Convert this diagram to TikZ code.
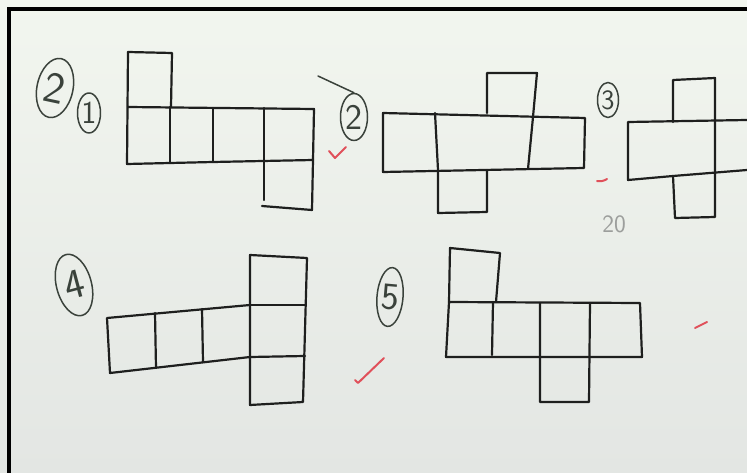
\documentclass[tikz,border=0pt]{standalone}
\usetikzlibrary{shapes.geometric}
\definecolor{netInk}{HTML}{1E1F1E}
\definecolor{netTag}{HTML}{3A423B}
\definecolor{netRed}{HTML}{E0505A}
\definecolor{netPencil}{HTML}{9C9E9C}
\definecolor{netPaperTop}{HTML}{F2F6EF}
\definecolor{netPaperLow}{HTML}{E3E6E3}
\begin{document}
\begin{tikzpicture}[x=1pt,y=-1pt,line cap=round,line join=round]
\useasboundingbox (0,0) rectangle (747,473);
\shade[top color=netPaperTop,bottom color=netPaperLow] (0,0) rectangle (747,473);
\fill[black] (7,7) rectangle (747,11); \fill[black] (7,7) rectangle (11,473);
\tikzset{pen/.style={draw=netInk,line width=2.2pt},redpen/.style={draw=netRed,line width=2pt},tag/.style={ellipse,draw=netTag,line width=1.5pt,inner sep=0pt,text=netTag,font=\sffamily\fontsize{44}{44}\selectfont}}
% net 1
\draw[pen] (128,52) -- (172,53) -- (171,107);
\draw[pen] (128,52) -- (127,164) -- (213,162) -- (313,160) -- (314,109) -- (128,107);
\draw[pen] (170,107) -- (170,163); \draw[pen] (213,108) -- (213,162); \draw[pen] (264,108) -- (264,200);
\draw[pen] (313,160) -- (312,210) -- (262,206);
% net 2
\draw[pen] (383,113) -- (585,118) -- (584,168) -- (383,172) -- cycle;
\draw[pen] (487,113) -- (487,73) -- (537,73) -- (533,117) -- (528,169);
\draw[pen] (435,113) -- (438,170) -- (438,213) -- (487,212) -- (487,170);
% net 3
\draw[pen] (747,120) -- (628,122) -- (628,180) -- (673,176) -- (747,170);
\draw[pen] (673,122) -- (673,80) -- (715,78) -- (715,217) -- (675,218) -- (673,176);
% net 4
\draw[pen] (250,305) -- (107,318) -- (110,373) -- (250,357);
\draw[pen] (155,313) -- (156,368); \draw[pen] (202,309) -- (203,362);
\draw[pen] (250,255) -- (307,258) -- (303,402) -- (250,405) -- cycle;
\draw[pen] (250,305) -- (305,305); \draw[pen] (250,357) -- (305,356);
% net 5
\draw[pen] (449,302) -- (450,248) -- (500,253) -- (496,302);
\draw[pen] (449,302) -- (640,303) -- (642,357) -- (446,357) -- cycle;
\draw[pen] (493,302) -- (492,355);
\draw[pen] (540,303) -- (540,402) -- (589,402) -- (590,303);
% labels
\node[tag,minimum width=36pt,minimum height=60pt,rotate=-12] (qtwo) at (55,88) {2};
\node[tag,minimum width=23pt,minimum height=40pt,font=\sffamily\fontsize{32}{32}\selectfont] (nOne) at (89,113) {1};
\node[tag,minimum width=27pt,minimum height=47pt,font=\sffamily\fontsize{36}{36}\selectfont] (nTwo) at (354,117) {2};
\draw[draw=netTag,line width=1.5pt] (nTwo.north) -- (318,76);
\node[tag,minimum width=21pt,minimum height=35pt,font=\sffamily\fontsize{28}{28}\selectfont] (nThree) at (608,100) {3};
\node[tag,minimum width=35pt,minimum height=63pt,rotate=15,font=\sffamily\fontsize{42}{42}\selectfont] (nFour) at (74,285) {4};
\node[tag,minimum width=26pt,minimum height=59pt,rotate=-5,font=\sffamily\fontsize{38}{38}\selectfont] (nFive) at (390,297) {5};
\node[text=netPencil,inner sep=1pt,font=\sffamily\fontsize{25}{25}\selectfont] (score) at (614,224) {20};
% marks
\draw[redpen] (329,151) -- (335,158) -- (346,147);
\draw[redpen] (355,380) -- (358,383) -- (384,358);
\draw[redpen] (597,181) to[bend right=20] (607,179);
\draw[redpen] (695,328) -- (707,322);
\end{tikzpicture}
\end{document}
